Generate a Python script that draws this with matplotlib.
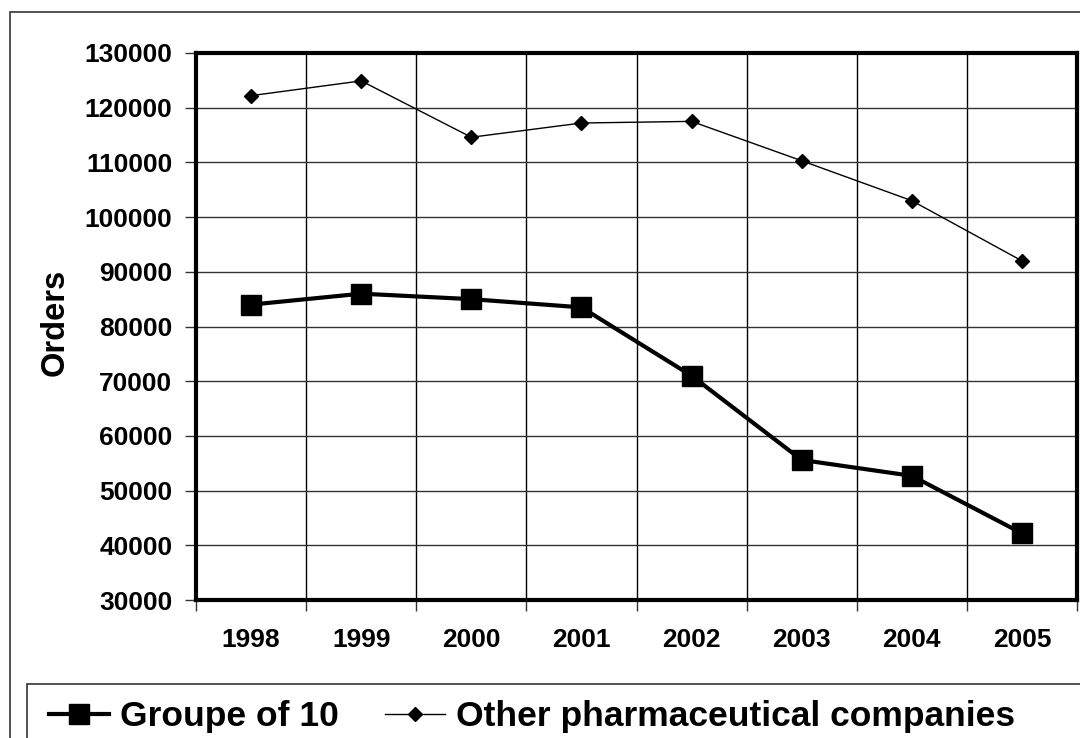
import matplotlib
matplotlib.use("Agg")
import matplotlib.pyplot as plt
from matplotlib.patches import Rectangle
import numpy as np

years = ["1998", "1999", "2000", "2001", "2002", "2003", "2004", "2005"]
groupe_of_10 = [84000, 86000, 85000, 83500, 71000, 55600, 52700, 42200]
other_pharma = [122200, 124900, 114600, 117200, 117500, 110300, 103000, 92000]
y_ticks = [30000, 40000, 50000, 60000, 70000, 80000, 90000, 100000, 110000, 120000, 130000]

plt.rcParams['font.family'] = ['Liberation Sans', 'DejaVu Sans']
plt.rcParams['font.weight'] = 'bold'

W, H = 1080, 738
fig = plt.figure(figsize=(W / 100, H / 100), dpi=100)

# outer chart frame
fig.patches.append(Rectangle((10 / W, -0.2), 1.5, 1 - 12 / H + 0.2, transform=fig.transFigure,
                             fill=False, edgecolor='#333333', linewidth=1.2, clip_on=False))
# legend frame (extends past the figure edge, as in the reference)
fig.patches.append(Rectangle((27 / W, -0.2), 1.5, 1 - 684 / H + 0.2, transform=fig.transFigure,
                             fill=False, edgecolor='#333333', linewidth=1.2, clip_on=False))

ax = fig.add_axes([196 / W, 1 - 600 / H, (1077 - 196) / W, (600 - 53) / H])
x = np.arange(len(years))
ax.plot(x, other_pharma, color='black', linewidth=1.0, marker='D', markersize=7,
        label='Other pharmaceutical companies', zorder=3)
ax.plot(x, groupe_of_10, color='black', linewidth=3.0, marker='s', markersize=15,
        label='Groupe of 10', zorder=4)

ax.set_xlim(-0.5, len(years) - 0.5)
ax.set_ylim(30000, 130000)
ax.set_yticks(y_ticks)
ax.set_yticklabels([str(v) for v in y_ticks], fontsize=19, fontweight='bold')
ax.set_xticks(x)
ax.set_xticklabels(years, fontsize=19, fontweight='bold')
ax.tick_params(axis='x', which='major', length=0, pad=20)
ax.set_xticks(np.arange(-0.5, len(years)), minor=True)
ax.tick_params(axis='x', which='minor', length=8, width=1, direction='out', color='#333333')
ax.tick_params(axis='y', which='major', length=8, width=1, direction='out', pad=9, color='#333333')
ax.grid(True, axis='y', which='major', color='#333333', linewidth=1)
ax.grid(True, axis='x', which='minor', color='black', linewidth=1)
ax.set_axisbelow(True)
for s in ax.spines.values():
    s.set_linewidth(3)
    s.set_color('black')

fig.text(55 / W, 1 - 322 / H, 'Orders', rotation=90, fontsize=23.5, fontweight='bold',
         ha='center', va='center')

handles, labels = ax.get_legend_handles_labels()
leg = fig.legend(handles[::-1], labels[::-1], loc='upper left', bbox_to_anchor=(33 / W, 1 - 684 / H),
                 bbox_transform=fig.transFigure, ncol=2, frameon=False,
                 prop={'size': 25.5, 'weight': 'bold'}, handlelength=1.7, handletextpad=0.3,
                 columnspacing=1.3, borderpad=0.45, borderaxespad=0)
leg.legend_handles[0].set_markersize(14)
leg.legend_handles[1].set_markersize(7)

fig.savefig('out.png', dpi=100)
